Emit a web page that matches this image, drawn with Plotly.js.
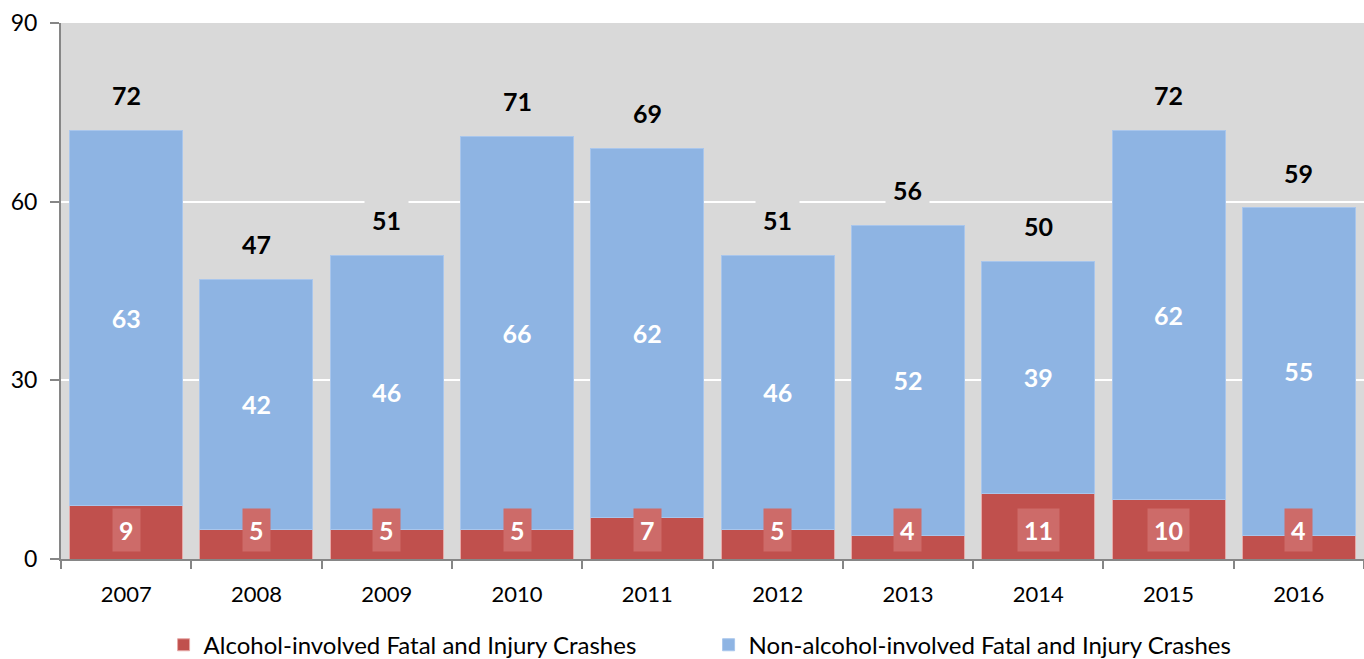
<!DOCTYPE html>
<html>
<head>
<meta charset="utf-8">
<script src="https://cdn.plot.ly/plotly-3.0.1.min.js"></script>
<style>html,body{margin:0;padding:0;background:#fff;}#chart{width:1364px;height:659px;}</style>
</head>
<body>
<div id="chart"></div>
<script>
const years = ['2007','2008','2009','2010','2011','2012','2013','2014','2015','2016'];
const alcohol = [9,5,5,5,7,5,4,11,10,4];
const nonAlcohol = [63,42,46,66,62,46,52,39,62,55];
const totals = [72,47,51,71,69,51,56,50,72,59];

const FONT = 'Lato, "DejaVu Sans", sans-serif';

const traces = [
  {
    type:'bar', name:'Alcohol-involved Fatal and Injury Crashes',
    x: years, y: alcohol,
    marker:{color:'#C0504D', line:{color:'#E6A9A7', width:1}},
    hoverinfo:'skip'
  },
  {
    type:'bar', name:'Non-alcohol-involved Fatal and Injury Crashes',
    x: years, y: nonAlcohol,
    marker:{color:'#8EB4E3', line:{color:'#A9C6EC', width:1}},
    text: nonAlcohol.map(String), textposition:'inside', insidetextanchor:'middle',
    textfont:{family:FONT, size:25, color:'#ffffff', weight:'bold'},
    constraintext:'none',
    hoverinfo:'skip'
  }
];

const annotations = [];
years.forEach((yr,i)=>{
  annotations.push({
    x: i, y: 0, xref:'x', yref:'y', yshift:29, yanchor:'middle',
    text:'<b>'+alcohol[i]+'</b>', showarrow:false,
    font:{family:FONT, size:25, color:'#ffffff'},
    bgcolor:'#CD6B69', borderpad:6
  });
  annotations.push({
    x: i, y: totals[i], xref:'x', yref:'y', yshift:35, yanchor:'middle',
    text:'<b>'+totals[i]+'</b>', showarrow:false,
    font:{family:FONT, size:25, color:'#000000'},
    bgcolor:'#D9D9D9', borderpad:7
  });
});

const layout = {
  width:1364, height:659,
  margin:{l:61, r:0, t:23, b:100},
  barmode:'stack', bargap:0.133,
  plot_bgcolor:'#D9D9D9', paper_bgcolor:'#FFFFFF',
  font:{family:FONT, size:22, color:'#000'},
  showlegend:true,
  legend:{orientation:'h', x:0.497, xanchor:'center', yref:'container', y:0.021, yanchor:'middle',
          font:{family:FONT, size:24, color:'#000'}, traceorder:'normal', itemwidth:30,
          entrywidth:500, entrywidthmode:'pixels'},
  xaxis:{
    type:'category', showgrid:false, showline:true, linecolor:'#868686', linewidth:2,
    ticks:'outside', tickson:'boundaries', ticklen:8, tickcolor:'#868686', tickwidth:2,
    tickfont:{family:FONT, size:22, color:'#000'}, zeroline:false, tickangle:0,
    ticklabelstandoff:15
  },
  yaxis:{
    range:[0,90], tickvals:[0,30,60,90], showgrid:true, gridcolor:'#FFFFFF', gridwidth:2,
    showline:true, linecolor:'#868686', linewidth:2,
    ticks:'outside', ticklen:9, tickcolor:'#868686', tickwidth:2,
    tickfont:{family:FONT, size:23, color:'#000'}, zeroline:false, fixedrange:true,
    ticklabelstandoff:8, automargin:false
  },
  annotations: annotations
};

Plotly.newPlot('chart', traces, layout, {displayModeBar:false, staticPlot:true});
</script>
</body>
</html>
